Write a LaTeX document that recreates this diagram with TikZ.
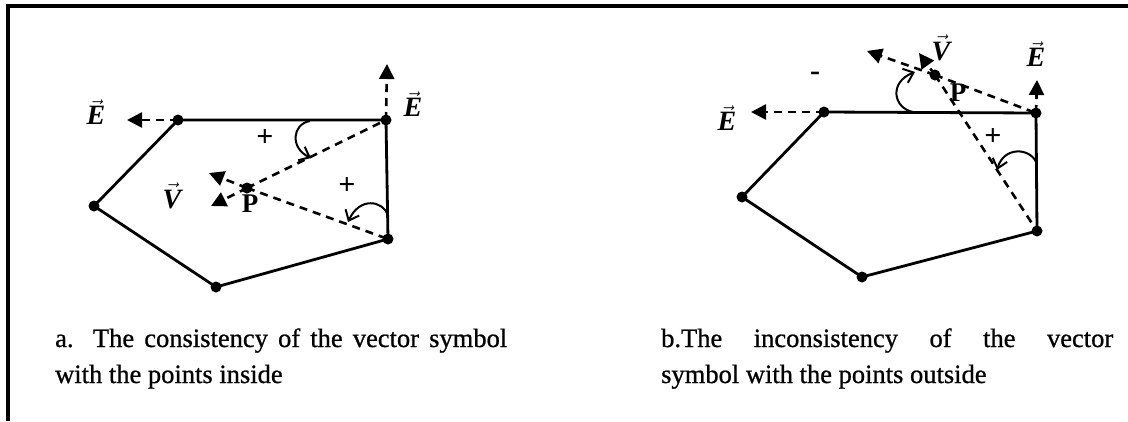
\documentclass[tikz,border=0pt]{standalone}
\usepackage{fontspec}
\setmainfont{Liberation Serif}
\newfontfamily\capfont[FakeBold=0.8]{Liberation Serif}
\usetikzlibrary{arrows.meta}

\tikzset{
  edge/.style={line width=2.8pt},
  ray/.style={line width=2.6pt, dash pattern=on 8pt off 6pt},
  vecarrow/.style={ray, -{Triangle[length=15pt,width=15pt]}},
  turn/.style={line width=2pt, -{Straight Barb[length=9pt,width=15pt]}},
  vlabel/.style={inner sep=0pt, font=\fontsize{28}{28}\selectfont},
  plabel/.style={inner sep=0pt, font=\fontsize{27}{27}\selectfont\bfseries},
  sign/.style={inner sep=0pt, font=\fontsize{30}{30}\selectfont\bfseries},
  caption/.style={text width=452pt, align=justify, inner sep=0pt, anchor=base west,
    font=\fontsize{26.5}{36}\selectfont\capfont}
}
\newcommand{\vecE}{$\vec{\mbox{\bfseries\itshape E}}$}
\newcommand{\vecV}{$\vec{\mbox{\bfseries\itshape V}}$}
\hyphenpenalty=10000

\begin{document}
\begin{tikzpicture}[x=1pt,y=-1pt]
  \useasboundingbox (0,0) rectangle (1128,421);
  \draw[line width=3.5pt] (8,421) -- (8,6) -- (1128,6);

  % a: point inside
  \coordinate (a1) at (178,120);
  \coordinate (a2) at (386,120);
  \coordinate (a3) at (388,239);
  \coordinate (a4) at (216,287);
  \coordinate (a5) at (94,206);
  \coordinate (p) at (247,188);
  \draw[edge] (a1) -- (a2) -- (a3) -- (a4) -- (a5) -- cycle;
  \foreach \v in {a1,a2,a3,a4,a5,p} \fill (\v) circle (5.5);
  \draw[ray] (p) -- (a2);
  \draw[ray] (p) -- (a3);
  \coordinate (ea1) at (127,120);
  \coordinate (ea2) at (387,64);
  \coordinate (va1) at (209,173);
  \coordinate (va2) at (211,206);
  \draw[vecarrow] (a1) -- (ea1);
  \draw[vecarrow] (a2) -- (ea2);
  \draw[vecarrow] (p) -- (va1);
  \draw[vecarrow] (p) -- (va2);
  \node[vlabel] (lea1) at (96,112) {\vecE};
  \node[vlabel] (lea2) at (413,104) {\vecE};
  \node[vlabel] (lva) at (172,196) {\vecV};
  \node[plabel] (lpa) at (250,204) {P};
  \node[sign] (sa1) at (265,138) {+};
  \node[sign] (sa2) at (347,186) {+};
  \coordinate (ta1) at (310,121);
  \coordinate (ta2) at (311,158);
  \coordinate (ta3) at (388,215);
  \coordinate (ta4) at (348,222);
  \draw[turn] (ta1) .. controls (292,124) and (290,148) .. (ta2);
  \draw[turn] (ta3) .. controls (383,201) and (360,196) .. (ta4);

  % b: point outside
  \coordinate (b1) at (824,112);
  \coordinate (b2) at (1036,113);
  \coordinate (b3) at (1037,231);
  \coordinate (b4) at (862,277);
  \coordinate (b5) at (742,197);
  \coordinate (q) at (935,75);
  \draw[edge] (b1) -- (b2) -- (b3) -- (b4) -- (b5) -- cycle;
  \foreach \v in {b1,b2,b3,b4,b5,q} \fill (\v) circle (5.5);
  \draw[ray] (q) -- (b2);
  \draw[ray] (q) -- (b3);
  \coordinate (eb1) at (751,112);
  \coordinate (eb2) at (1037,80);
  \coordinate (vb1) at (867,51);
  \coordinate (vb2) at (919,53);
  \draw[vecarrow] (b1) -- (eb1);
  \draw[vecarrow] (b2) -- (eb2);
  \draw[vecarrow] (q) -- (vb1);
  \draw[vecarrow] (q) -- (vb2);
  \node[vlabel] (leb1) at (727,118) {\vecE};
  \node[vlabel] (leb2) at (1036,54) {\vecE};
  \node[vlabel] (lvb) at (941,48) {\vecV};
  \node[plabel] (lpb) at (958,93) {P};
  \node[sign] (sb1) at (815,76) {-};
  \node[sign] (sb2) at (993,137) {+};
  \coordinate (tb1) at (913,112);
  \coordinate (tb2) at (915,72);
  \coordinate (tb3) at (1036,162);
  \coordinate (tb4) at (997,170);
  \draw[turn] (tb1) .. controls (893,108) and (889,82) .. (tb2);
  \draw[turn] (tb3) .. controls (1030,148) and (1004,146) .. (tb4);

  % captions
  \node[caption] (capa) at (55,347) {a. The consistency of the vector symbol\linebreak with the points inside};
  \node[caption] (capb) at (661,347) {b.The inconsistency of the vector\linebreak symbol with the points outside};
\end{tikzpicture}
\end{document}
